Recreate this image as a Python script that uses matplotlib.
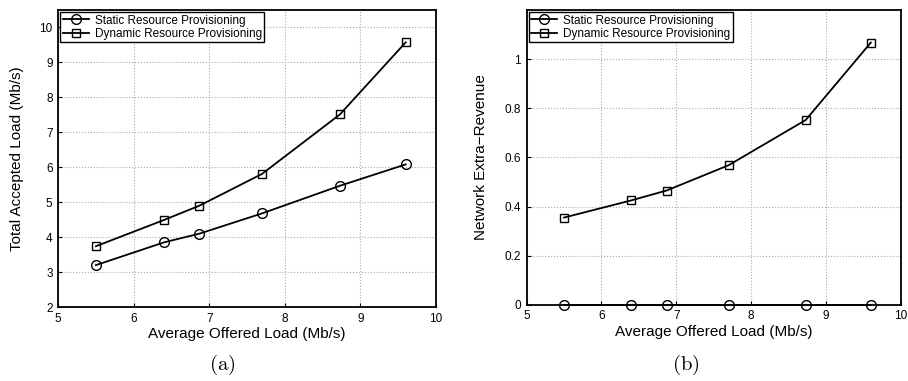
import matplotlib
matplotlib.use('Agg')
import matplotlib.pyplot as plt

plt.rcParams['font.family'] = ['Liberation Sans', 'DejaVu Sans']
plt.rcParams['mathtext.fontset'] = 'cm'

# data
offered_load = [5.5, 6.4, 6.87, 7.7, 8.73, 9.6]
static_accepted = [3.2, 3.85, 4.1, 4.68, 5.47, 6.08]
dynamic_accepted = [3.74, 4.49, 4.9, 5.81, 7.51, 9.57]
static_revenue = [0, 0, 0, 0, 0, 0]
dynamic_revenue = [0.355, 0.425, 0.465, 0.568, 0.752, 1.067]

labels = ['Static Resource Provisioning', 'Dynamic Resource Provisioning']

fig = plt.figure(figsize=(9.08, 3.81), dpi=100)
ax1 = fig.add_axes([0.064, 0.194, 0.416, 0.780])
ax2 = fig.add_axes([0.580, 0.200, 0.412, 0.774])


def style_axes(ax):
    ax.grid(True, linestyle=':', color='#aaaaaa', linewidth=0.8)
    ax.tick_params(direction='in', labelsize=8.5, length=3, width=0.8, pad=4)
    for s in ax.spines.values():
        s.set_linewidth(1.3)
    ax.set_xlim(5, 10)
    ax.set_xticks([5, 6, 7, 8, 9, 10])
    ax.set_xlabel('Average Offered Load (Mb/s)', fontsize=11, labelpad=2)
    leg = ax.legend(loc='upper left', fontsize=8.5, fancybox=False, framealpha=1,
                    borderpad=0.2, handlelength=2.2, labelspacing=0.1,
                    borderaxespad=0.2, handletextpad=0.5)
    leg.get_frame().set_edgecolor('black')
    leg.get_frame().set_linewidth(1.0)


ax1.plot(offered_load, static_accepted, 'k-o', markerfacecolor='none', markersize=7, lw=1.3, label=labels[0])
ax1.plot(offered_load, dynamic_accepted, 'k-s', markerfacecolor='none', markersize=5.5, lw=1.3, label=labels[1])
ax1.set_ylim(2, 10.5)
ax1.set_yticks(range(2, 11))
ax1.set_ylabel('Total Accepted Load (Mb/s)', fontsize=11, labelpad=11)
style_axes(ax1)

ax2.plot(offered_load, static_revenue, 'k-o', markerfacecolor='none', markersize=7, lw=1.3, label=labels[0], clip_on=False)
ax2.plot(offered_load, dynamic_revenue, 'k-s', markerfacecolor='none', markersize=5.5, lw=1.3, label=labels[1])
ax2.set_ylim(0, 1.2)
ax2.set_yticks([0, 0.2, 0.4, 0.6, 0.8, 1])
ax2.set_yticklabels(['0', '0.2', '0.4', '0.6', '0.8', '1'])
ax2.set_ylabel('Network Extra\u2212Revenue', fontsize=11, labelpad=12)
style_axes(ax2)

fig.text(0.245, 0.03, r'$\mathrm{(a)}$', fontsize=15, ha='center')
fig.text(0.755, 0.03, r'$\mathrm{(b)}$', fontsize=15, ha='center')

plt.savefig('out.png', dpi=100)
